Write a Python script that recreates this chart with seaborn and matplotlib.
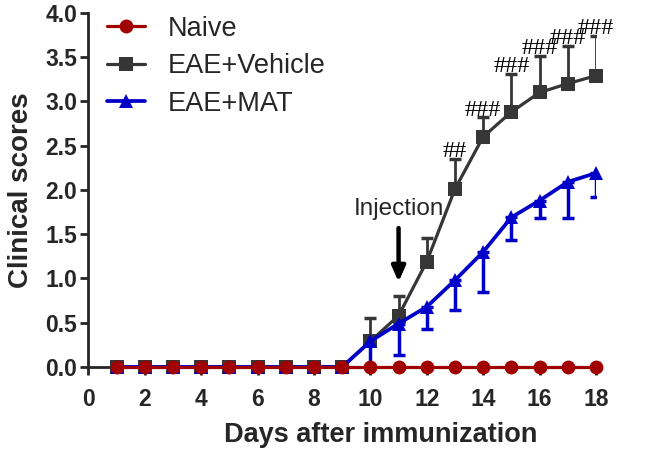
import numpy as np
import pandas as pd
import matplotlib
matplotlib.use('Agg')
import matplotlib.pyplot as plt
import seaborn as sns

# data
days = list(range(1, 19))
naive = [0.0] * 18
vehicle = [0, 0, 0, 0, 0, 0, 0, 0, 0, 0.29, 0.58, 1.19, 2.01, 2.60, 2.88, 3.10, 3.20, 3.29]
vehicle_upper = [0, 0, 0, 0, 0, 0, 0, 0, 0, 0.55, 0.80, 1.46, 2.35, 2.82, 3.31, 3.51, 3.63, 3.74]
mat = [0, 0, 0, 0, 0, 0, 0, 0, 0, 0.29, 0.49, 0.68, 0.98, 1.30, 1.69, 1.88, 2.09, 2.19]
mat_lower = [0, 0, 0, 0, 0, 0, 0, 0, 0, 0.0, 0.14, 0.43, 0.64, 0.85, 1.43, 1.68, 1.68, 1.92]
sig_days = [13, 14, 15, 16, 17, 18]
sig_marks = ['##', '###', '###', '###', '###', '###']
x_ticks = list(range(0, 19, 2))
y_ticks = [0.0, 0.5, 1.0, 1.5, 2.0, 2.5, 3.0, 3.5, 4.0]

sns.set_style('ticks')
plt.rcParams['font.family'] = ['Liberation Sans', 'DejaVu Sans']

c_naive = '#a00000'
c_veh = '#363636'
c_mat = '#0000c8'

df = pd.DataFrame({
    'day': days * 3,
    'score': naive + vehicle + mat,
    'group': ['Naive'] * 18 + ['EAE+Vehicle'] * 18 + ['EAE+MAT'] * 18,
})

fig = plt.figure(figsize=(6.45, 4.57), dpi=100)
ax = fig.add_axes([0.137, 0.197, 0.787, 0.775])

# error bars (vehicle upper only, MAT lower only)
veh = np.array(vehicle)
ax.errorbar(days, veh, yerr=[np.zeros(18), np.array(vehicle_upper) - veh],
            fmt='none', ecolor=c_veh, elinewidth=2, capsize=4.5, capthick=2.5, zorder=2)
m = np.array(mat)
ax.errorbar(days, m, yerr=[m - np.array(mat_lower), np.zeros(18)],
            fmt='none', ecolor=c_mat, elinewidth=2.5, capsize=4.5, capthick=2.5, zorder=2)

sns.lineplot(data=df[df.group == 'EAE+Vehicle'], x='day', y='score', color=c_veh,
             marker='s', markersize=9.5, markeredgewidth=0, linewidth=2.3, ax=ax,
             label='EAE+Vehicle', zorder=3, clip_on=False)
sns.lineplot(data=df[df.group == 'EAE+MAT'], x='day', y='score', color=c_mat,
             marker='^', markersize=10.5, markeredgewidth=0, linewidth=2.7, ax=ax,
             label='EAE+MAT', zorder=4, clip_on=False)
sns.lineplot(data=df[df.group == 'Naive'], x='day', y='score', color=c_naive,
             marker='o', markersize=10, markeredgewidth=0, linewidth=2.3, ax=ax,
             label='Naive', zorder=5, clip_on=False)

# significance marks
for d, s in zip(sig_days, sig_marks):
    ax.text(d, vehicle_upper[d - 1] + 0.02, s, ha='center', va='baseline',
            fontsize=17.5, family='Liberation Serif', color='black')

# injection annotation
ax.annotate('', xy=(11, 0.93), xytext=(11, 1.6),
            arrowprops=dict(arrowstyle='-|>,head_width=0.4,head_length=0.9',
                            color='black', lw=3.2))
ax.text(11.0, 1.66, 'Injection', ha='center', va='bottom', fontsize=17.5)

ax.set_xlim(0, 18)
ax.set_ylim(0, 4)
ax.set_xticks(x_ticks)
ax.set_yticks(y_ticks)
ax.set_yticklabels([f'{v:.1f}' for v in y_ticks])
ax.tick_params(axis='both', direction='out', length=6, width=2, labelsize=16.5)
ax.tick_params(axis='x', pad=9)
ax.tick_params(axis='y', pad=2)
for lbl in ax.get_xticklabels() + ax.get_yticklabels():
    lbl.set_fontweight('bold')
for sp in ['left', 'bottom']:
    ax.spines[sp].set_linewidth(2)
sns.despine(ax=ax)

ax.set_xlabel('Days after immunization', fontsize=19.5, fontweight='bold')
ax.xaxis.set_label_coords(0.575, -0.155)
ax.set_ylabel('Clinical scores', fontsize=20, fontweight='bold', labelpad=8)

h, l = ax.get_legend_handles_labels()
order = [l.index('Naive'), l.index('EAE+Vehicle'), l.index('EAE+MAT')]
ax.legend([h[i] for i in order], [l[i] for i in order], loc='upper left',
          bbox_to_anchor=(-0.012, 1.06), frameon=False, fontsize=19.5,
          handlelength=1.4, handletextpad=0.85, labelspacing=0.42)

fig.savefig('out.png', dpi=100)
